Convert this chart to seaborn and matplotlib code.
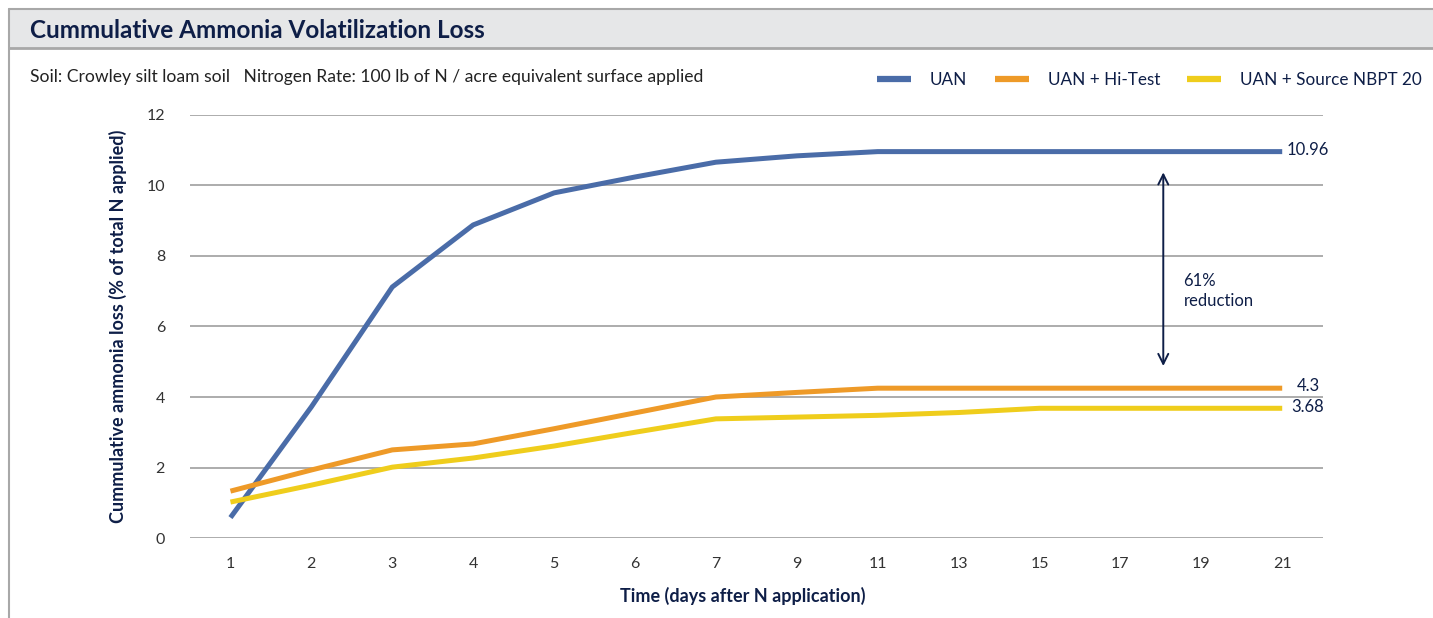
import pandas as pd
import matplotlib.pyplot as plt
import seaborn as sns
from matplotlib.patches import Rectangle
from matplotlib.lines import Line2D

# data
days = ["1", "2", "3", "4", "5", "6", "7", "9", "11", "13", "15", "17", "19", "21"]
uan = [0.58, 3.72, 7.12, 8.88, 9.79, 10.24, 10.66, 10.84, 10.96, 10.96, 10.96, 10.96, 10.96, 10.96]
hi_test = [1.33, 1.93, 2.5, 2.67, 3.1, 3.55, 4.0, 4.13, 4.25, 4.25, 4.25, 4.25, 4.25, 4.25]
nbpt = [1.02, 1.5, 2.01, 2.27, 2.61, 3.0, 3.38, 3.43, 3.48, 3.56, 3.68, 3.68, 3.68, 3.68]
series_names = ["UAN", "UAN + Hi-Test", "UAN + Source NBPT 20"]
end_labels = ["10.96", "4.3", "3.68"]
colors = ["#4a6ca8", "#ee9a28", "#efcd1c"]

navy = "#0e1e47"

df = pd.DataFrame({
    "day": days * 3,
    "loss": uan + hi_test + nbpt,
    "series": [series_names[0]] * len(days) + [series_names[1]] * len(days) + [series_names[2]] * len(days),
})

sns.set_theme(style="white")
plt.rcParams['font.family'] = ['Lato', 'DejaVu Sans']

fig = plt.figure(figsize=(14.33, 6.18), dpi=100)
ax = fig.add_axes([0.1326, 0.1294, 0.7904, 0.6846])

sns.lineplot(data=df, x="day", y="loss", hue="series", palette=colors,
             linewidth=3.6, ax=ax, legend=False, sort=False,
             solid_capstyle="butt")

ax.set_ylim(0, 12)
ax.set_xlim(-0.5, 13.5)
ax.set_yticks(range(0, 13, 2))
ax.yaxis.grid(True, color="#a6a6a6", linewidth=1.3)
ax.set_axisbelow(True)
for s in ax.spines.values():
    s.set_visible(False)
ax.tick_params(axis="both", length=0, labelsize=11.5, labelcolor="#333333")
ax.tick_params(axis="x", pad=14)
ax.tick_params(axis="y", pad=18)

ax.set_xlabel("Time (days after N application)", fontsize=13, fontweight="bold",
              color=navy, labelpad=12)
ax.xaxis.set_label_coords(0.488, -0.115)
ax.set_ylabel("Cummulative ammonia loss (% of total N applied)", fontsize=13,
              fontweight="bold", color=navy, labelpad=14)

# end-of-line value labels
last = len(days) - 1
for vals, lab in zip([uan, hi_test, nbpt], end_labels):
    ax.text(last + 0.32, vals[-1] + 0.05, lab, ha="center", va="center",
            fontsize=12, color=navy)

# reduction arrow
ax.annotate("", xy=(11.53, 10.45), xytext=(11.53, 4.8),
            arrowprops=dict(arrowstyle="<->", color=navy, lw=1.4,
                            mutation_scale=18))
ax.text(11.78, 7.0, "61%\nreduction", ha="left", va="center", fontsize=12,
        color=navy, linespacing=1.3)

# header band and frame
fig.patches.append(Rectangle((9 / 1433, 1 - 48 / 618), 1 - 9 / 1433, 39 / 618,
                             transform=fig.transFigure, facecolor="#e6e7e8",
                             edgecolor="none", zorder=0))
fig.add_artist(Line2D([9 / 1433, 1], [1 - 9 / 618, 1 - 9 / 618], color="#a8a8a8", lw=1.5))
fig.add_artist(Line2D([9 / 1433, 1], [1 - 48 / 618, 1 - 48 / 618], color="#a8a8a8", lw=2))
fig.add_artist(Line2D([9 / 1433, 9 / 1433], [0, 1 - 9 / 618], color="#a8a8a8", lw=1.5))

fig.text(30 / 1433, 1 - 30 / 618, "Cummulative Ammonia Volatilization Loss",
         fontsize=17.5, fontweight="bold", color=navy, va="center", ha="left")
fig.text(30 / 1433, 1 - 77 / 618,
         "Soil: Crowley silt loam soil   Nitrogen Rate: 100 lb of N / acre equivalent surface applied",
         fontsize=12.6, color="#222222", va="center", ha="left")

handles = [Line2D([], [], color=c, lw=4.5, solid_capstyle="butt") for c in colors]
fig.legend(handles, series_names, loc="center right", bbox_to_anchor=(1.003, 1 - 80 / 618),
           ncol=3, frameon=False, fontsize=12.3, handlelength=2.0, columnspacing=1.6,
           handletextpad=1.1, labelcolor=navy)

fig.savefig("out.png", dpi=100)
